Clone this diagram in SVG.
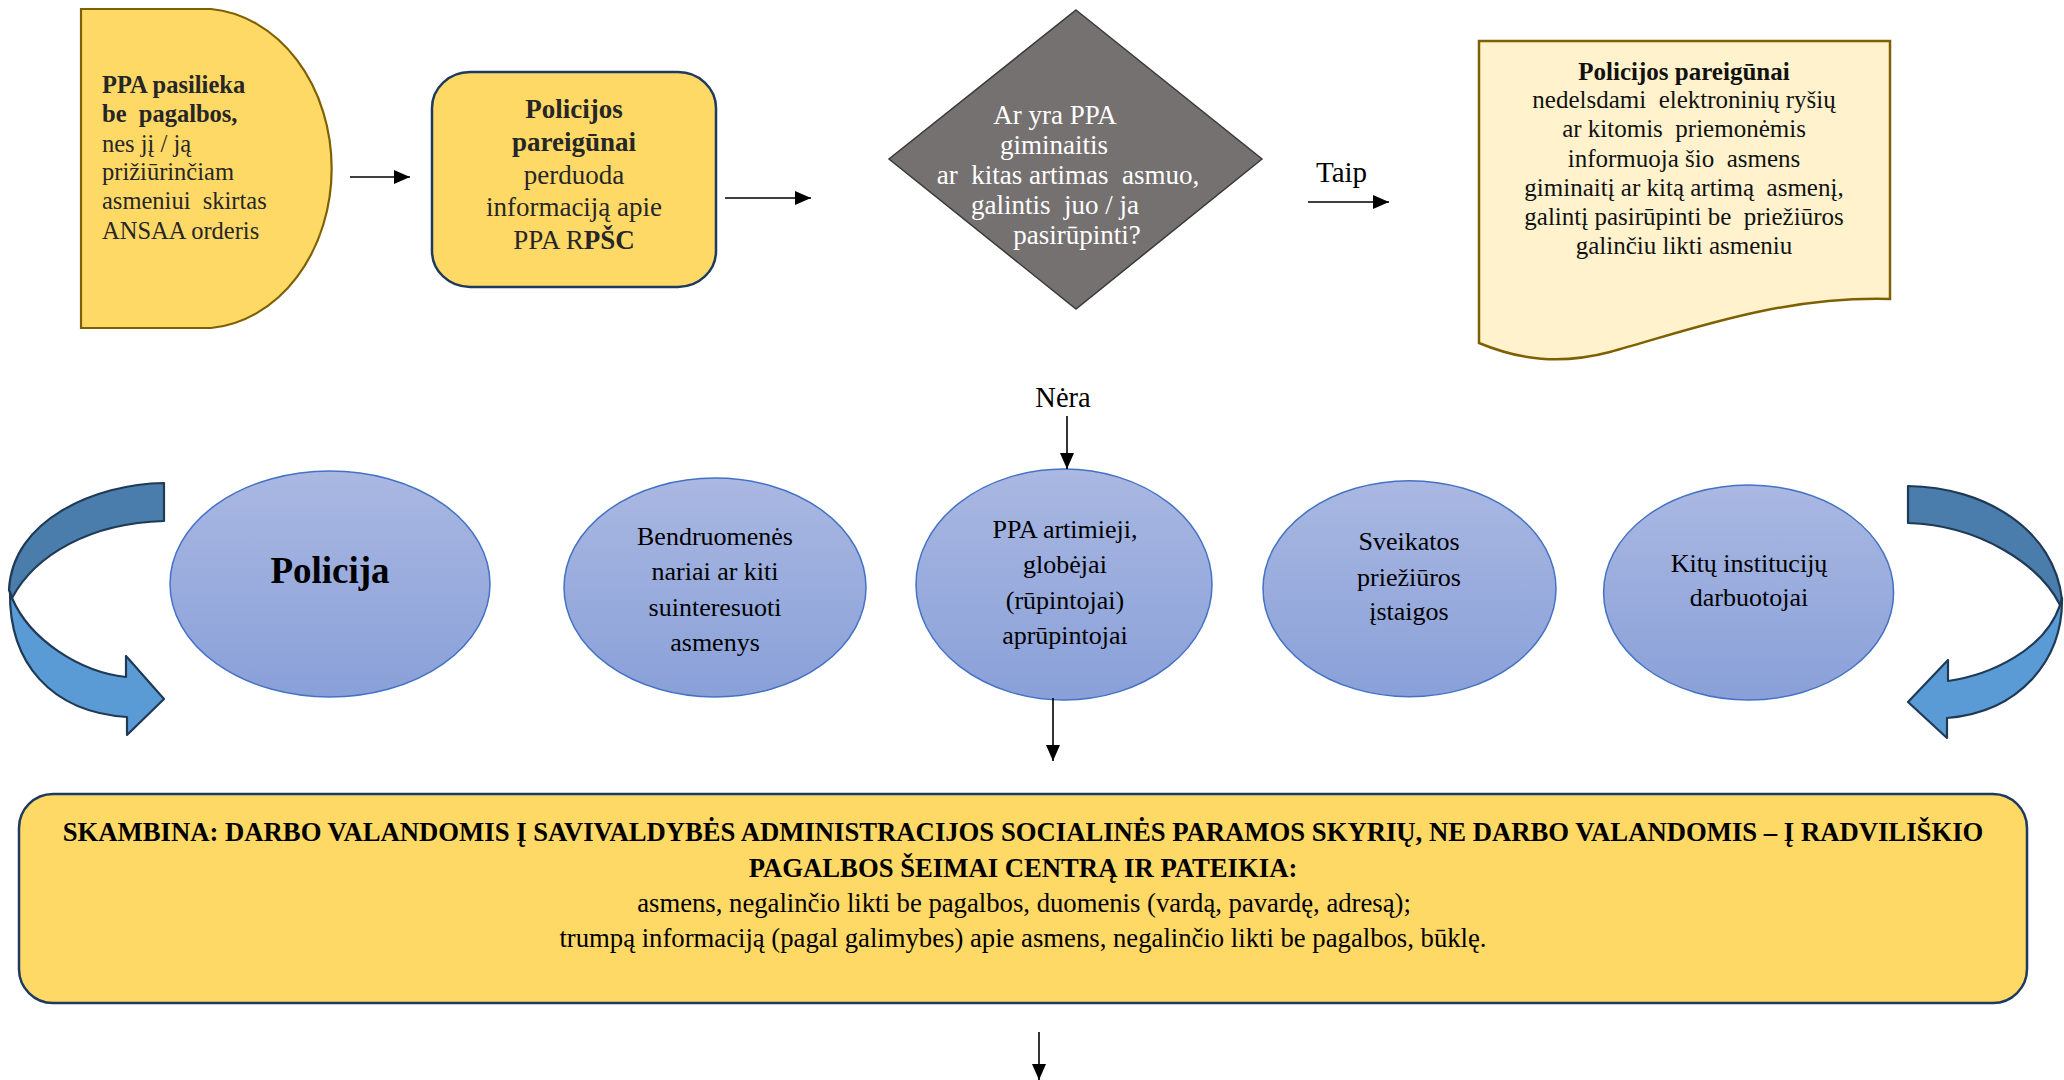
<svg xmlns="http://www.w3.org/2000/svg" width="2064" height="1080" viewBox="0 0 2064 1080">
<style>
.c{text-anchor:middle;}
.b{font-weight:bold;}
.yel{fill:#FFD966;}
.conn{stroke:#000;stroke-width:1.6;fill:none;marker-end:url(#ah);}
.ell{fill:url(#eg);stroke:#4472C4;stroke-width:1.5;}
.loopd{fill:#4A7DAB;stroke:#1E3A56;stroke-width:2.2;stroke-linejoin:round;}
.loopl{fill:#5B9BD5;stroke:#1E3A56;stroke-width:2.2;stroke-linejoin:round;}
</style>
<defs>
<marker id="ah" markerUnits="userSpaceOnUse" markerWidth="16" markerHeight="14" refX="16" refY="7" orient="auto">
<path d="M0,0 L16,7 L0,14 Z" fill="#000"/>
</marker>
<linearGradient id="eg" x1="0" y1="0" x2="0" y2="1">
<stop offset="0" stop-color="#AAB8E2"/>
<stop offset="1" stop-color="#89A0D8"/>
</linearGradient>
</defs>
<rect width="2064" height="1080" fill="#FFFFFF"/>
<g font-family="'Liberation Serif', 'Times New Roman', serif">

<g id="node-ppa-pasilieka">
<path class="yel" d="M81,9 H211 A131,160 0 0 1 211,328 H81 Z" stroke="#7F6000" stroke-width="2.2"/>
<g font-size="24.5" fill="#262626">
<text x="102" y="93" class="b">PPA pasilieka</text>
<text x="102" y="122" class="b" xml:space="preserve">be  pagalbos,</text>
<text x="102" y="152">nes jį / ją</text>
<text x="102" y="180">prižiūrinčiam</text>
<text x="102" y="209" xml:space="preserve">asmeniui  skirtas</text>
<text x="102" y="239">ANSAA orderis</text>
</g>
</g>

<g id="node-policijos-perduoda">
<rect class="yel" x="432" y="72" width="284" height="215" rx="38" ry="36" stroke="#1F3A5F" stroke-width="2.5"/>
<g font-size="27" fill="#262626">
<text x="574" y="118" class="c b">Policijos</text>
<text x="574" y="151" class="c b">pareigūnai</text>
<text x="574" y="184" class="c">perduoda</text>
<text x="574" y="216" class="c">informaciją apie</text>
<text x="574" y="249" class="c">PPA R<tspan class="b">PŠC</tspan></text>
</g>
</g>

<g id="node-decision">
<path d="M1076,10 L1262,159 L1076,309 L889,159 Z" fill="#767171" stroke="#3A3A3A" stroke-width="1.5"/>
<g font-size="27" fill="#FFFFFF">
<text x="1055" y="124" class="c">Ar yra PPA</text>
<text x="1054" y="154" class="c">giminaitis</text>
<text x="1068" y="184" class="c" xml:space="preserve">ar  kitas artimas  asmuo,</text>
<text x="1055" y="214" class="c" xml:space="preserve">galintis  juo / ja</text>
<text x="1077" y="244" class="c">pasirūpinti?</text>
</g>
</g>

<g id="node-informuoja">
<path d="M1479,41 H1890 V299 C1780,296 1690,330 1610,352 C1560,365 1520,360 1479,343 Z" fill="#FFF2CC" stroke="#7F6000" stroke-width="2.5"/>
<g font-size="25" fill="#111">
<text x="1684" y="80" class="c b">Policijos pareigūnai</text>
<text x="1684" y="108" class="c" xml:space="preserve">nedelsdami  elektroninių ryšių</text>
<text x="1684" y="137" class="c" xml:space="preserve">ar kitomis  priemonėmis</text>
<text x="1684" y="167" class="c" xml:space="preserve">informuoja šio  asmens</text>
<text x="1684" y="196" class="c" xml:space="preserve">giminaitį ar kitą artimą  asmenį,</text>
<text x="1684" y="225" class="c" xml:space="preserve">galintį pasirūpinti be  priežiūros</text>
<text x="1684" y="254" class="c">galinčiu likti asmeniu</text>
</g>
</g>

<g id="loop-left">
<path class="loopd" d="M164,483 C95,484 12,520 9,590 L12,598 C35,555 90,523 164,521 Z"/>
<path class="loopl" d="M10,592 C9,662 50,712 127,717 L127,735 L164,699 L126,656 L126,677 C80,672 30,640 12,598 Z"/>
</g>
<g id="loop-right">
<path class="loopd" d="M1908,486 C1985,487 2055,530 2062,600 L2060,605 C2040,565 1980,525 1908,523 Z"/>
<path class="loopl" d="M2062,598 C2063,660 2020,712 1947,718 L1947,738 L1908,702 L1948,660 L1948,681 C1990,675 2045,650 2060,605 Z"/>
</g>

<g id="node-policija">
<ellipse class="ell" cx="330" cy="584" rx="160" ry="113"/>
<text x="330" y="583" font-size="37" class="c b" fill="#000">Policija</text>
</g>

<g id="node-bendruomenes">
<ellipse class="ell" cx="715" cy="587.5" rx="151" ry="109.5"/>
<g font-size="26" fill="#000">
<text x="715" y="545" class="c">Bendruomenės</text>
<text x="715" y="580" class="c">nariai ar kiti</text>
<text x="715" y="616" class="c">suinteresuoti</text>
<text x="715" y="651" class="c">asmenys</text>
</g>
</g>

<g id="node-artimieji">
<ellipse class="ell" cx="1064" cy="584.5" rx="148" ry="115.5"/>
<g font-size="26" fill="#000">
<text x="1065" y="538" class="c">PPA artimieji,</text>
<text x="1065" y="573" class="c">globėjai</text>
<text x="1065" y="609" class="c">(rūpintojai)</text>
<text x="1065" y="644" class="c">aprūpintojai</text>
</g>
</g>

<g id="node-sveikatos">
<ellipse class="ell" cx="1409.5" cy="588.7" rx="146.5" ry="108"/>
<g font-size="26" fill="#000">
<text x="1409" y="550" class="c">Sveikatos</text>
<text x="1409" y="586" class="c">priežiūros</text>
<text x="1409" y="620" class="c">įstaigos</text>
</g>
</g>

<g id="node-kitu">
<ellipse class="ell" cx="1748.6" cy="592.5" rx="145" ry="107.5"/>
<g font-size="26" fill="#000">
<text x="1749" y="572" class="c">Kitų institucijų</text>
<text x="1749" y="606" class="c">darbuotojai</text>
</g>
</g>

<g id="node-skambina">
<rect class="yel" x="19" y="794" width="2008" height="209" rx="34" ry="34" stroke="#1F3A5F" stroke-width="2.5"/>
<g font-size="26.7" fill="#000">
<text x="1023" y="841" class="c b">SKAMBINA: DARBO VALANDOMIS Į SAVIVALDYBĖS ADMINISTRACIJOS SOCIALINĖS PARAMOS SKYRIŲ, NE DARBO VALANDOMIS – Į RADVILIŠKIO</text>
<text x="1023" y="877" class="c b">PAGALBOS ŠEIMAI CENTRĄ IR PATEIKIA:</text>
<text x="1024" y="912" class="c">asmens, negalinčio likti be pagalbos, duomenis (vardą, pavardę, adresą);</text>
<text x="1023" y="947" class="c">trumpą informaciją (pagal galimybes) apie asmens, negalinčio likti be pagalbos, būklę.</text>
</g>
</g>

<g id="connectors">
<line class="conn" x1="350" y1="177" x2="410" y2="177"/>
<line class="conn" x1="725" y1="198" x2="811" y2="198"/>
<line class="conn" x1="1308" y1="202" x2="1389" y2="202"/>
<text x="1316" y="182" font-size="29" fill="#000">Taip</text>
<text x="1063" y="407" font-size="28.5" class="c" fill="#000">Nėra</text>
<line class="conn" x1="1067" y1="416" x2="1067" y2="469"/>
<line class="conn" x1="1053" y1="698" x2="1053" y2="761"/>
<line class="conn" x1="1039" y1="1032" x2="1039" y2="1080"/>
</g>
</g>
</svg>
